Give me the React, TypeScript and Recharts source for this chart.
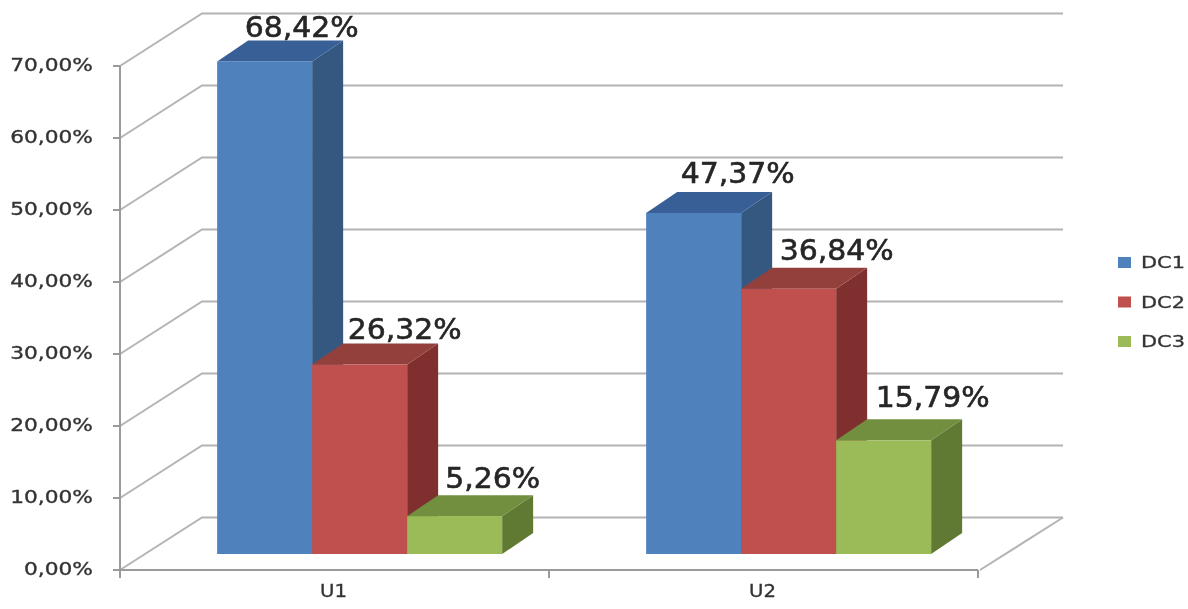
import { BarChart, Bar, CartesianGrid, LabelList, Legend, XAxis, YAxis } from "recharts";

const categories = ["U1", "U2"];
const dc1 = [68.42, 47.37];
const dc2 = [26.32, 36.84];
const dc3 = [5.26, 15.79];
const yTicks = [0, 10, 20, 30, 40, 50, 60, 70];

const data = categories.map((name, i) => ({ name, DC1: dc1[i], DC2: dc2[i], DC3: dc3[i] }));

const colors = {
  DC1: { front: "#4f81bd", side: "#34587f", top: "#386097" },
  DC2: { front: "#c0504d", side: "#7f2f2d", top: "#93403d" },
  DC3: { front: "#9bbb59", side: "#617a33", top: "#718f3e" },
};

const WIDTH = 1188;
const HEIGHT = 609;
const LEFT = 120;
const RIGHT = 978;
const TOP = 66;
const BOTTOM = 570;
const LEGEND_W = 71;
// how far the back wall sits behind the axis plane
const WALL_DX = 82;
const WALL_DY = 52.5;
// bars stand on the floor, a bit behind the axis plane
const FLOOR_DX = 25.5;
const FLOOR_DY = 16;
// bar depth
const DEPTH_DX = 31;
const DEPTH_DY = 21;
const TEXT = "#333333";
const GRID = "#b4b4b4";
const AXIS = "#9a9a9a";

// the labels were placed by hand in the original
const labelNudge: Record<string, [number, number]> = {
  "68,42%": [-8, 0],
  "26,32%": [0, -1],
  "5,26%": [-7, -4],
  "47,37%": [-1, -6],
  "36,84%": [3, -5],
  "15,79%": [4, -9],
};

const pct = (v: number) => v.toFixed(2).replace(".", ",") + "%";

function wallLine(props: any) {
  const { x1, x2, y1 } = props;
  const bx = x1 + WALL_DX;
  const by = y1 - WALL_DY;
  const isFloor = Math.abs(y1 - BOTTOM) < 1;
  return (
    <g key={"wall-" + y1}>
      <polyline points={`${x1},${y1} ${bx},${by} ${x2 + WALL_DX + 3},${by}`} fill="none" stroke={GRID} strokeWidth={2} />
      {isFloor && <line x1={x2 + 2} y1={y1} x2={x2 + WALL_DX + 3} y2={by} stroke={GRID} strokeWidth={2} />}
    </g>
  );
}

const box = (key: keyof typeof colors) => (props: any) => {
  const { x, y, width, height } = props;
  const c = colors[key];
  const l = x + FLOOR_DX;
  const r = l + width;
  const t = y - FLOOR_DY;
  const b = t + height;
  return (
    <g>
      <polygon points={`${r},${t} ${r + DEPTH_DX},${t - DEPTH_DY} ${r + DEPTH_DX},${b - DEPTH_DY} ${r},${b}`} fill={c.side} />
      <polygon points={`${l},${t} ${l + DEPTH_DX},${t - DEPTH_DY} ${r + DEPTH_DX},${t - DEPTH_DY} ${r},${t}`} fill={c.top} />
      <rect x={l} y={t} width={width} height={height} fill={c.front} />
    </g>
  );
};

function valueLabel(props: any) {
  const { x, y, width, value } = props;
  const label = pct(value);
  const [dx, dy] = labelNudge[label];
  return (
    <text
      x={x + FLOOR_DX + width / 2 + 45 + dx}
      y={y - FLOOR_DY - 24 + dy}
      textAnchor="middle"
      fontFamily="DejaVu Sans"
      fontSize={29}
      fill="#262626"
      stroke="#262626"
      strokeWidth={0.6}
      textLength={label.length === 5 ? 95 : 114}
      lengthAdjust="spacingAndGlyphs"
    >
      {label}
    </text>
  );
}

function yTick(props: any) {
  const { x, y, payload } = props;
  const label = pct(payload.value);
  return (
    <text
      x={x}
      y={y + 5}
      textAnchor="end"
      fontFamily="DejaVu Sans"
      fontSize={18}
      fill={TEXT}
      stroke={TEXT}
      strokeWidth={0.35}
      textLength={label.length * 13.8}
      lengthAdjust="spacingAndGlyphs"
    >
      {label}
    </text>
  );
}

function xTick(props: any) {
  const { x, y, payload, index } = props;
  const band = (RIGHT - LEFT) / categories.length;
  const tickAt = (tx: number) => <line x1={tx} x2={tx} y1={BOTTOM} y2={BOTTOM + 8} stroke={AXIS} strokeWidth={2} />;
  return (
    <g>
      {tickAt(x - band / 2)}
      {index === categories.length - 1 && tickAt(x + band / 2)}
      <text x={x - 1} y={y + 19} textAnchor="middle" fontFamily="DejaVu Sans" fontSize={17} fill={TEXT} stroke={TEXT} strokeWidth={0.3} textLength={27} lengthAdjust="spacingAndGlyphs">
        {payload.value}
      </text>
    </g>
  );
}

function legendContent() {
  const names = Object.keys(colors) as (keyof typeof colors)[];
  return (
    <svg width={LEGEND_W} height={120} style={{ display: "block" }}>
      {names.map((n, i) => (
        <g key={n} transform={`translate(0, ${i * 39.5})`}>
          <rect x={1} y={4} width={13} height={11} fill={colors[n].front} />
          <text x={24} y={15} fontFamily="DejaVu Sans" fontSize={16} fill={TEXT} stroke={TEXT} strokeWidth={0.3} textLength={44} lengthAdjust="spacingAndGlyphs">
            {n}
          </text>
        </g>
      ))}
    </svg>
  );
}

export default function App() {
  return (
    <div style={{ position: "absolute", left: 0, top: 0, width: WIDTH, height: HEIGHT, overflow: "hidden", background: "#fff", filter: "blur(0.6px)" }}>
      <BarChart
        width={WIDTH}
        height={HEIGHT}
        data={data}
        barGap={0}
        barCategoryGap="16.7%"
        margin={{ top: TOP, right: WIDTH - RIGHT - LEGEND_W, bottom: 0, left: 0 }}
      >
        <CartesianGrid horizontal={wallLine} vertical={false} />
        <XAxis
          dataKey="name"
          height={HEIGHT - BOTTOM}
          tickLine={false}
          tick={xTick}
          axisLine={{ stroke: AXIS, strokeWidth: 2 }}
        />
        <YAxis
          width={LEFT}
          domain={[0, 70]}
          ticks={yTicks}
          tick={yTick}
          tickSize={7}
          tickMargin={20}
          tickLine={{ stroke: AXIS, strokeWidth: 2 }}
          axisLine={{ stroke: AXIS, strokeWidth: 2 }}
        />
        <Legend
          layout="vertical"
          align="right"
          verticalAlign="top"
          content={legendContent}
          wrapperStyle={{ left: 1117, top: 253, width: LEGEND_W, right: "auto" }}
        />
        <Bar dataKey="DC1" shape={box("DC1")} isAnimationActive={false}>
          <LabelList dataKey="DC1" content={valueLabel} />
        </Bar>
        <Bar dataKey="DC2" shape={box("DC2")} isAnimationActive={false}>
          <LabelList dataKey="DC2" content={valueLabel} />
        </Bar>
        <Bar dataKey="DC3" shape={box("DC3")} isAnimationActive={false}>
          <LabelList dataKey="DC3" content={valueLabel} />
        </Bar>
      </BarChart>
    </div>
  );
}
